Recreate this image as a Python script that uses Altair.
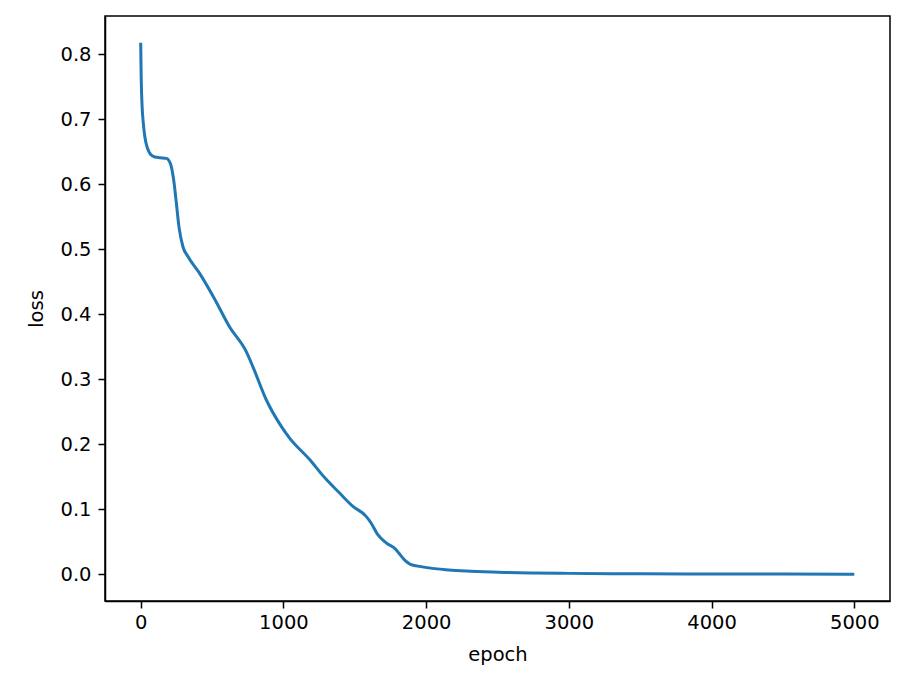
import altair as alt
import pandas as pd

epoch = [0, 4, 10, 18, 30, 47, 70, 100, 133, 180, 208, 231, 250, 268, 296, 331,
         413, 517, 622, 739, 785, 879, 984, 1042, 1182, 1290, 1392, 1485, 1578,
         1613, 1660, 1718, 1788, 1811, 1850, 1890, 1974, 2044, 2137, 2278, 2510,
         3000, 3500, 4000, 4500, 5000]
loss = [0.818, 0.76, 0.72, 0.695, 0.672, 0.656, 0.646, 0.642, 0.641, 0.640,
        0.632, 0.607, 0.571, 0.535, 0.504, 0.489, 0.463, 0.424, 0.381, 0.343,
        0.320, 0.269, 0.228, 0.210, 0.177, 0.1485, 0.1255, 0.105, 0.0896,
        0.0794, 0.0614, 0.0487, 0.0384, 0.032, 0.022, 0.0155, 0.0115, 0.0092,
        0.0072, 0.0050, 0.0032, 0.0015, 0.0009, 0.0006, 0.0004, 0.0003]

x_ticks = [0, 1000, 2000, 3000, 4000, 5000]
y_ticks = [0.0, 0.1, 0.2, 0.3, 0.4, 0.5, 0.6, 0.7, 0.8]

df = pd.DataFrame({"epoch": epoch, "loss": loss})

font = "DejaVu Sans"

chart = alt.Chart(df).mark_line(color="#1f77b4", strokeWidth=3, interpolate="monotone").encode(
    x=alt.X("epoch:Q",
            scale=alt.Scale(domain=[-250, 5250], nice=False, zero=False),
            axis=alt.Axis(values=x_ticks, title="epoch", format="d", grid=False,
                          tickSize=7, labelPadding=5, titlePadding=14)),
    y=alt.Y("loss:Q",
            scale=alt.Scale(domain=[-0.041, 0.859], nice=False, zero=False),
            axis=alt.Axis(values=y_ticks, title="loss", format=".1f", grid=False,
                          tickSize=7, labelPadding=7, titlePadding=13)),
).properties(
    width=785, height=585,
    autosize=alt.AutoSizeParams(type="none"),
    padding={"left": 97, "top": 8, "right": 8, "bottom": 70},
    background="white",
).configure_axis(
    labelFont=font, titleFont=font, labelFontSize=19.5, titleFontSize=19.5,
    titleFontWeight="normal", labelColor="black", titleColor="black",
    domainColor="black", tickColor="black", domainWidth=1.5, tickWidth=1.5,
).configure_view(
    stroke="black", strokeWidth=1.5,
)

chart.save("out.html", embed_options={"renderer": "svg", "actions": False})
